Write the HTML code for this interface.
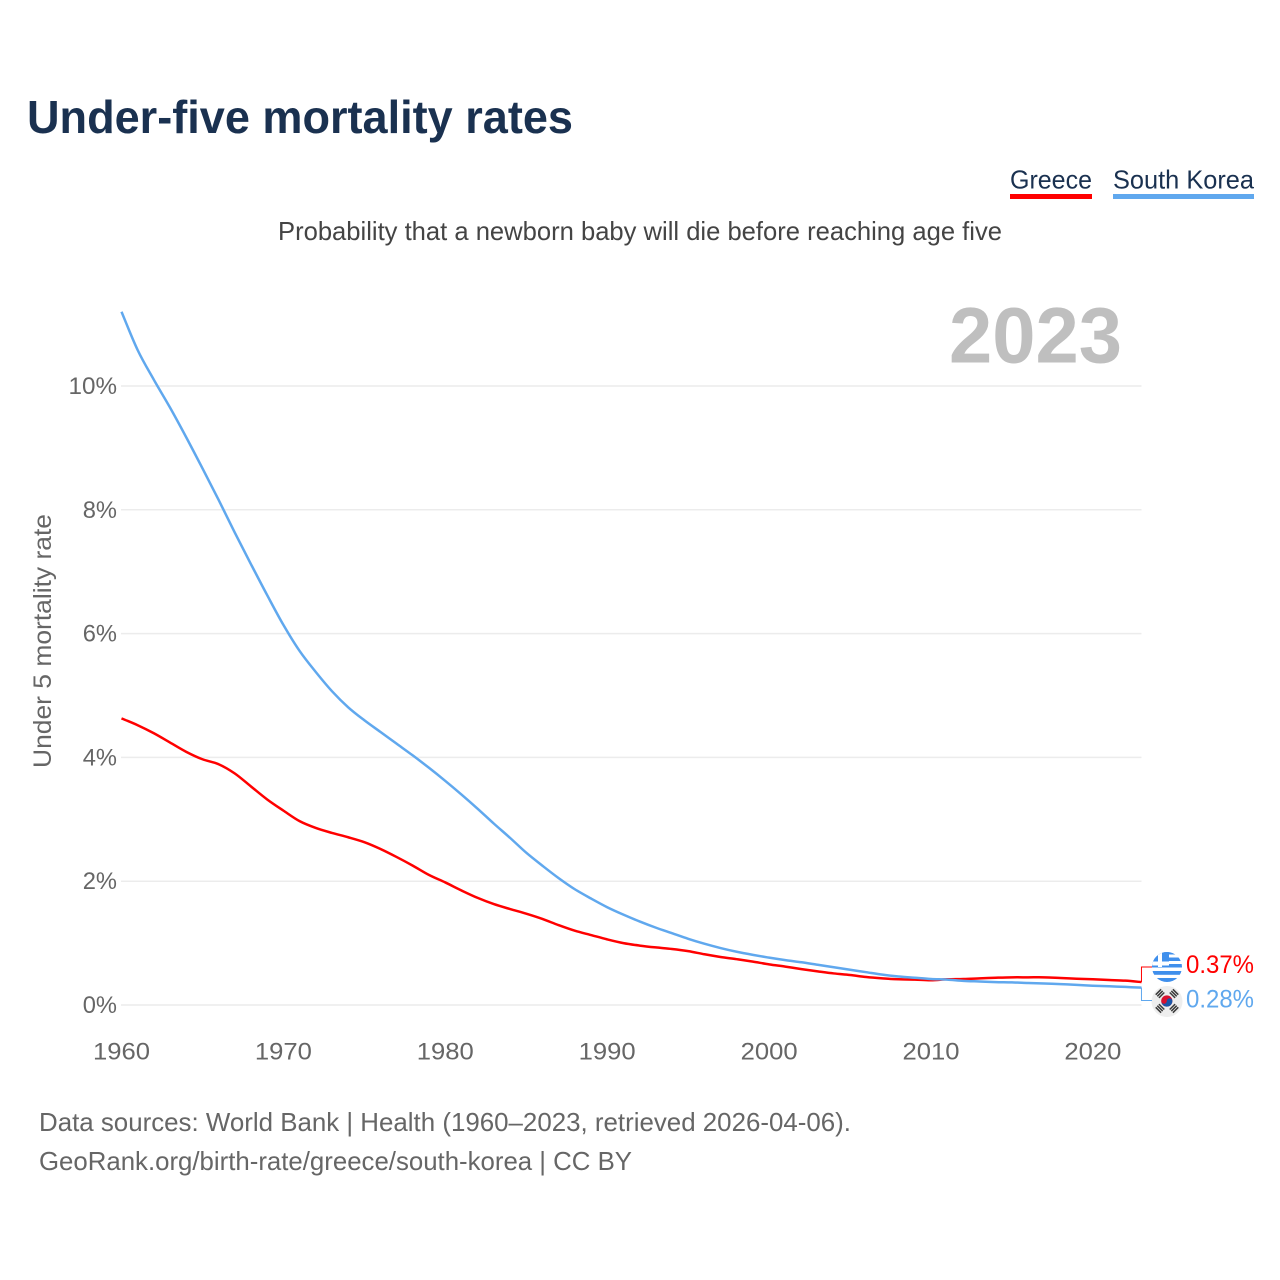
<!DOCTYPE html>
<html lang="en">
<head>
<meta charset="utf-8">
<title>Under-five mortality rates</title>
<style>
html,body{margin:0;padding:0;background:#fff;width:1280px;height:1280px;overflow:hidden}
svg{display:block}
text{font-family:"Liberation Sans",sans-serif}
</style>
</head>
<body>
<svg id="chart" width="1280" height="1280" viewBox="0 0 1280 1280">
  <defs>
    <clipPath id="clip-gr"><circle cx="1167" cy="967" r="15"/></clipPath>
    <clipPath id="clip-kr"><circle cx="1167" cy="1001.5" r="15.5"/></clipPath>
    <g id="trigram">
      <rect x="-3.8" y="-3" width="7.6" height="1.5"/>
      <rect x="-3.8" y="-0.75" width="7.6" height="1.5"/>
      <rect x="-3.8" y="1.5" width="7.6" height="1.5"/>
    </g>
  </defs>
  <rect x="0" y="0" width="1280" height="1280" fill="#fff"/>
  <text x="27" y="133" font-size="46" font-weight="700" fill="#1a3150" textLength="546" lengthAdjust="spacingAndGlyphs">Under-five mortality rates</text>

  <g>
    <text x="1010" y="188.5" font-size="26" fill="#1a3150" textLength="82" lengthAdjust="spacingAndGlyphs">Greece</text>
    <rect x="1010" y="194" width="82" height="5" fill="#ff0000"/>
  </g>
  <g>
    <text x="1113" y="188.5" font-size="26" fill="#1a3150" textLength="141" lengthAdjust="spacingAndGlyphs">South Korea</text>
    <rect x="1113" y="194" width="141" height="5" fill="#60a8ee"/>
  </g>

  <text x="278" y="240" font-size="26" fill="#444" textLength="724" lengthAdjust="spacingAndGlyphs">Probability that a newborn baby will die before reaching age five</text>
  <text x="949" y="362.5" font-size="79" font-weight="700" fill="#bfbfbf" textLength="173" lengthAdjust="spacingAndGlyphs">2023</text>
  <text transform="translate(51,768) rotate(-90)" x="0" y="0" font-size="25" fill="#666" textLength="254" lengthAdjust="spacingAndGlyphs">Under 5 mortality rate</text>

  <g id="grid"></g>
  <g id="yticks"></g>
  <g id="xticks"></g>
  <g id="series"></g>

  <g clip-path="url(#clip-gr)">
    <rect x="1152" y="952" width="30" height="30" fill="#fff"/>
    <rect x="1152" y="952" width="30" height="2.5" fill="#3f8fec"/>
    <rect x="1152" y="957.5" width="30" height="3.5" fill="#3f8fec"/>
    <rect x="1152" y="964" width="30" height="3.5" fill="#3f8fec"/>
    <rect x="1152" y="971" width="30" height="3.8" fill="#3f8fec"/>
    <rect x="1152" y="978" width="30" height="4" fill="#3f8fec"/>
    <rect x="1152" y="952" width="17" height="15" fill="#3f8fec"/>
    <rect x="1158" y="952" width="4" height="15" fill="#fff"/>
    <rect x="1152" y="961.5" width="17" height="4" fill="#fff"/>
  </g>
  <g clip-path="url(#clip-kr)">
    <rect x="1151" y="986" width="32" height="32" fill="#eeeeee"/>
    <circle cx="1166.8" cy="1001" r="5.6" fill="#d8122f"/>
    <path d="M1161.2 1001a2.8 2.8 0 0 0 5.6 0a2.8 2.8 0 0 1 5.6 0a5.6 5.6 0 0 1 -11.2 0z" fill="#1a56a8"/>
    <g fill="#3a3a3a">
      <use href="#trigram" transform="translate(1160,993.6) rotate(-45)"/>
      <use href="#trigram" transform="translate(1174,993.6) rotate(45)"/>
      <use href="#trigram" transform="translate(1160,1008.4) rotate(45)"/>
      <use href="#trigram" transform="translate(1174,1008.4) rotate(-45)"/>
    </g>
  </g>
  <g id="endlabels"></g>

  <text x="39" y="1131" font-size="26" fill="#666" textLength="812" lengthAdjust="spacingAndGlyphs">Data sources: World Bank | Health (1960–2023, retrieved 2026-04-06).</text>
  <text x="39" y="1170" font-size="26" fill="#666" textLength="593" lengthAdjust="spacingAndGlyphs">GeoRank.org/birth-rate/greece/south-korea | CC BY</text>
</svg>
<script>
const startYear = 1960;
const xTickYears = [1960, 1970, 1980, 1990, 2000, 2010, 2020];
const yTickValues = [0, 2, 4, 6, 8, 10];
const greeceValues = [
  4.63,4.52,4.39,4.24,4.09,3.97,3.89,3.74,3.53,3.32,
  3.14,2.97,2.86,2.78,2.71,2.63,2.52,2.39,2.25,2.10,
  1.98,1.85,1.73,1.63,1.55,1.475,1.39,1.29,1.20,1.13,
  1.06,1.00,0.96,0.93,0.905,0.87,0.82,0.775,0.74,0.70,
  0.657,0.62,0.58,0.544,0.51,0.485,0.452,0.43,0.415,0.41,
  0.40,0.415,0.42,0.43,0.44,0.447,0.447,0.447,0.436,0.425,
  0.415,0.404,0.393,0.37
];
const koreaValues = [
  11.20,10.58,10.10,9.65,9.17,8.67,8.16,7.63,7.12,6.62,
  6.14,5.72,5.38,5.07,4.81,4.60,4.41,4.22,4.03,3.83,
  3.62,3.40,3.17,2.93,2.70,2.46,2.25,2.05,1.87,1.72,
  1.58,1.46,1.35,1.25,1.16,1.07,0.99,0.92,0.86,0.81,
  0.765,0.725,0.69,0.65,0.61,0.57,0.53,0.49,0.46,0.44,
  0.42,0.41,0.39,0.38,0.37,0.365,0.355,0.347,0.338,0.325,
  0.312,0.302,0.292,0.28
];

const NS = 'http://www.w3.org/2000/svg';
function xScale(year) { return 121.5 + (year - 1960) * 16.19; }
function yScale(v) { return 1005 - v * 61.9; }
function make(tag, attrs, parent) {
  const el = document.createElementNS(NS, tag);
  for (const k in attrs) el.setAttribute(k, attrs[k]);
  parent.appendChild(el);
  return el;
}
function labelWidth(s) {
  let w = 0;
  for (const c of s) w += c === '%' ? 20 : (c === '.' ? 6 : 14.25);
  return w;
}
function smoothPath(values) {
  const p = values.map((v, i) => [xScale(startYear + i), yScale(v)]);
  let d = 'M' + p[0][0].toFixed(2) + ' ' + p[0][1].toFixed(2);
  for (let i = 0; i < p.length - 1; i++) {
    const a = p[Math.max(i - 1, 0)], b = p[i], c = p[i + 1], e = p[Math.min(i + 2, p.length - 1)];
    const c1x = b[0] + (c[0] - a[0]) / 6, c1y = b[1] + (c[1] - a[1]) / 6;
    const c2x = c[0] - (e[0] - b[0]) / 6, c2y = c[1] - (e[1] - b[1]) / 6;
    d += 'C' + c1x.toFixed(2) + ' ' + c1y.toFixed(2) + ' ' + c2x.toFixed(2) + ' ' + c2y.toFixed(2) + ' ' + c[0].toFixed(2) + ' ' + c[1].toFixed(2);
  }
  return d;
}

const grid = document.getElementById('grid');
const yticks = document.getElementById('yticks');
const xticks = document.getElementById('xticks');
const series = document.getElementById('series');
const endlabels = document.getElementById('endlabels');
const xRight = xScale(2023);

yTickValues.forEach(function (t) {
  const line = make('line', {x1: 121, x2: xRight, y1: yScale(t), y2: yScale(t), stroke: '#ececec', 'stroke-width': 1.5}, grid);
  
  
  const s = t + '%';
  const label = make('text', {x: 117 - labelWidth(s), y: yScale(t) + 8, 'font-size': 24, fill: '#666', textLength: labelWidth(s), lengthAdjust: 'spacingAndGlyphs'}, yticks);
  label.textContent = s;
  
  
});

xTickYears.forEach(function (yr) {
  const label = make('text', {x: xScale(yr) - 28.5, y: 1059.5, 'font-size': 24, fill: '#666', textLength: 57, lengthAdjust: 'spacingAndGlyphs'}, xticks);
  label.textContent = String(yr);
  
  
});

const greeceLine = make('path', {d: smoothPath(greeceValues), fill: 'none', stroke: '#ff0000', 'stroke-width': 2.5, 'stroke-linejoin': 'round'}, series);


const koreaLine = make('path', {d: smoothPath(koreaValues), fill: 'none', stroke: '#60a8ee', 'stroke-width': 2.5, 'stroke-linejoin': 'round'}, series);



const greeceEnd = greeceValues[greeceValues.length - 1];
const koreaEnd = koreaValues[koreaValues.length - 1];

const leaderGreece = make('path', {d: 'M' + xRight + ' ' + yScale(greeceEnd) + 'V967H1152', fill: 'none', stroke: '#ff0000', 'stroke-width': 1}, endlabels);


const leaderKorea = make('path', {d: 'M' + xRight + ' ' + yScale(koreaEnd) + 'V1000.5H1152', fill: 'none', stroke: '#60a8ee', 'stroke-width': 1}, endlabels);



const valueGreece = make('text', {x: 1186, y: 973, 'font-size': 25, fill: '#ff0000', textLength: 68, lengthAdjust: 'spacingAndGlyphs'}, endlabels);
valueGreece.textContent = greeceEnd.toFixed(2) + '%';


const valueKorea = make('text', {x: 1186, y: 1007.5, 'font-size': 25, fill: '#60a8ee', textLength: 68, lengthAdjust: 'spacingAndGlyphs'}, endlabels);
valueKorea.textContent = koreaEnd.toFixed(2) + '%';


</script>
</body>
</html>
